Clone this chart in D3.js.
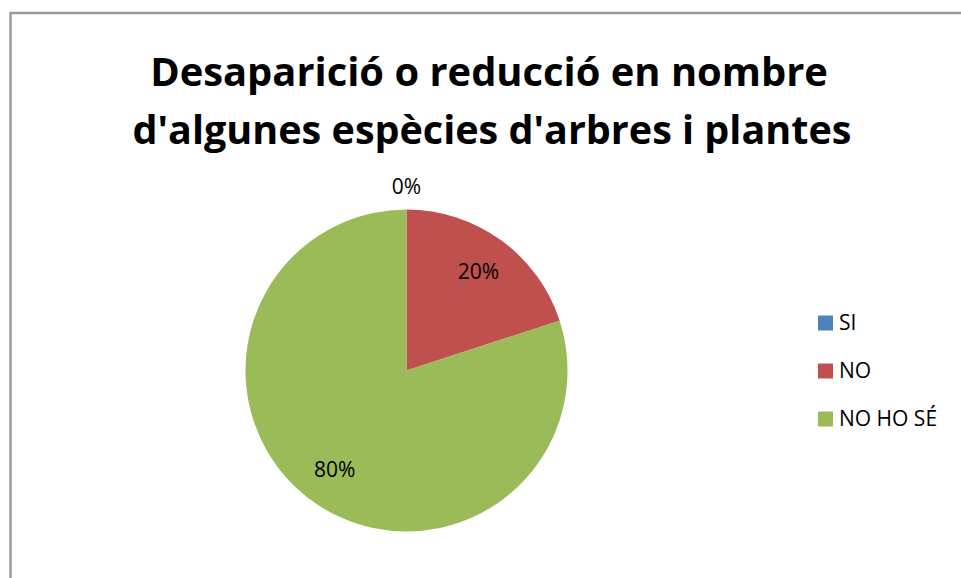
<!DOCTYPE html>
<html><head><meta charset="utf-8">
<script src="https://cdn.jsdelivr.net/npm/d3@7"></script>
<style>body{margin:0;background:#fff}svg{display:block}</style>
</head><body>
<script>
const categories = ["SI", "NO", "NO HO SÉ"];
const values = [0, 20, 80];
const pctLabels = ["0%", "20%", "80%"];
const colors = ["#4F81BD", "#C0504D", "#9BBB59"];
const titleLines = ["Desaparició o reducció en nombre", "d'algunes espècies d'arbres i plantes"];

const W = 961, H = 578;
const svg = d3.select("body").append("svg").attr("width", W).attr("height", H);
const font = "'Open Sans', 'Liberation Sans', sans-serif";

svg.append("rect").attr("x", 10.5).attr("y", 13).attr("width", 1000).attr("height", 700)
  .attr("fill", "#fff").attr("stroke", "#9a9a9a").attr("stroke-width", 2.5);

// title
const titleSpecs = [{y: 86, w: 678, cx: 489}, {y: 144, w: 719, cx: 492}];
titleLines.forEach((t, i) => {
  const el = svg.append("text").attr("x", titleSpecs[i].cx).attr("y", titleSpecs[i].y)
    .attr("text-anchor", "middle").attr("font-family", font).attr("font-weight", "bold")
    .attr("font-size", 40).attr("fill", "#000").text(t);
  const len = el.node().getComputedTextLength();
  el.attr("font-size", 40 * titleSpecs[i].w / len);
});

const cx = 406.5, cy = 370.5, R = 161;
const pie = d3.pie().sort(null).value(d => d)(values);
const arc = d3.arc().innerRadius(0).outerRadius(R);
const g = svg.append("g").attr("transform", `translate(${cx},${cy})`);
g.selectAll("path").data(pie).join("path").attr("d", arc).attr("fill", (d, i) => colors[i]);

const labelArc = d3.arc().innerRadius(R * 0.76).outerRadius(R * 0.76);
g.selectAll("text.lbl").data(pie).join("text").attr("class", "lbl")
  .attr("transform", d => {
    if (d.value === 0) {
      const a = d.startAngle;
      const r = R + 23;
      return `translate(${Math.sin(a) * r},${-Math.cos(a) * r})`;
    }
    return `translate(${labelArc.centroid(d)})`;
  })
  .attr("text-anchor", "middle").attr("dy", "0.35em")
  .attr("font-family", font).attr("font-size", 21).attr("fill", "#000")
  .text((d, i) => pctLabels[i]);

// legend
const lg = svg.append("g");
const ly = d3.scalePoint().domain(categories).range([323, 419]);
categories.forEach((c, i) => {
  lg.append("rect").attr("x", 818).attr("y", ly(c) - 7.5).attr("width", 15).attr("height", 15).attr("fill", colors[i]);
  lg.append("text").attr("x", 839).attr("y", ly(c)).attr("dy", "0.35em")
    .attr("font-family", font).attr("font-size", 21).attr("fill", "#000").text(c);
});
</script>
</body></html>
